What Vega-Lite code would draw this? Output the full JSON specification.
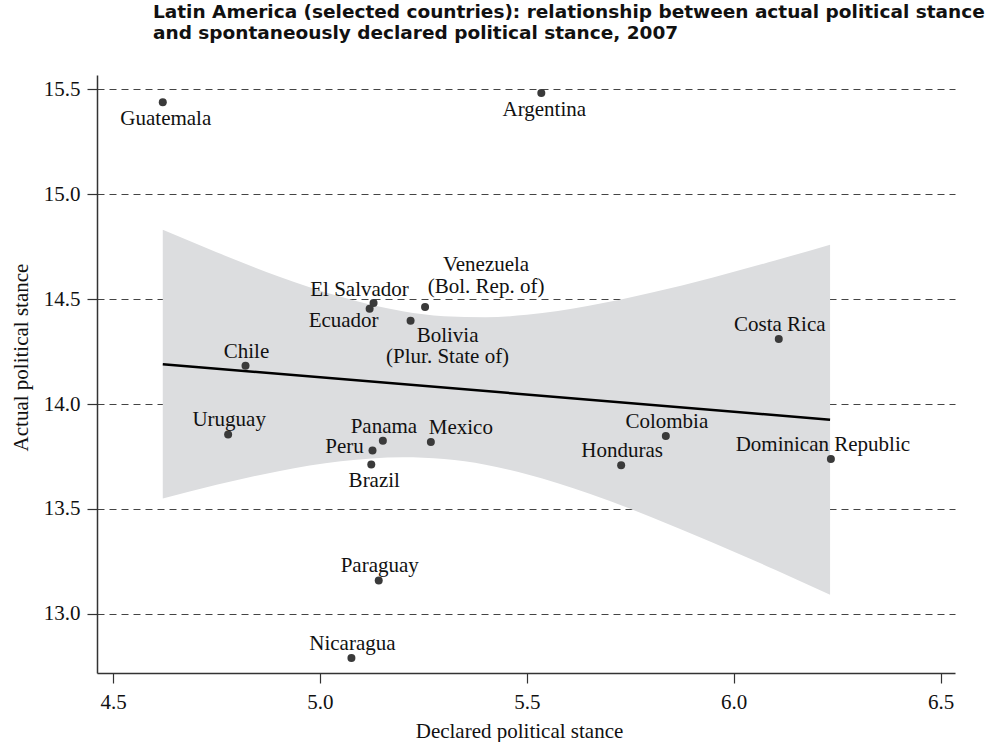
{
  "$schema": "https://vega.github.io/schema/vega-lite/v6.json",
  "width": 858,
  "height": 598,
  "autosize": "none",
  "padding": {"left": 97, "top": 75, "right": 40, "bottom": 69},
  "background": "white",
  "config": {"view": {"stroke": null}, "font": "Liberation Serif"},
  "title": {
    "text": ["Latin America (selected countries): relationship between actual political stance", "and spontaneously declared political stance, 2007"],
    "anchor": "start",
    "frame": "group",
    "font": "DejaVu Sans",
    "fontSize": 18.5,
    "fontWeight": "bold",
    "color": "#111111",
    "dx": 56,
    "offset": 33,
    "lineHeight": 21
  },
  "datasets": {
    "points": [
      {"country": "Guatemala", "x": 4.620, "y": 15.438},
      {"country": "Argentina", "x": 5.535, "y": 15.482},
      {"country": "El Salvador", "x": 5.1295, "y": 14.481},
      {"country": "Ecuador", "x": 5.120, "y": 14.454},
      {"country": "Venezuela\n(Bol. Rep. of)", "x": 5.254, "y": 14.462},
      {"country": "Bolivia\n(Plur. State of)", "x": 5.219, "y": 14.397},
      {"country": "Costa Rica", "x": 6.109, "y": 14.310},
      {"country": "Chile", "x": 4.820, "y": 14.182},
      {"country": "Uruguay", "x": 4.778, "y": 13.855},
      {"country": "Panama", "x": 5.152, "y": 13.825},
      {"country": "Mexico", "x": 5.268, "y": 13.819},
      {"country": "Peru", "x": 5.127, "y": 13.779},
      {"country": "Brazil", "x": 5.124, "y": 13.712},
      {"country": "Colombia", "x": 5.836, "y": 13.848},
      {"country": "Honduras", "x": 5.728, "y": 13.708},
      {"country": "Dominican Republic", "x": 6.235, "y": 13.738},
      {"country": "Paraguay", "x": 5.142, "y": 13.159},
      {"country": "Nicaragua", "x": 5.076, "y": 12.789}
    ],
    "fit": [
      {"x": 4.620, "y": 14.190},
      {"x": 6.233, "y": 13.925}
    ],
    "band": [
      {"x": 4.620, "y": 14.830, "lo": 13.550},
      {"x": 4.750, "y": 14.723, "lo": 13.615},
      {"x": 4.900, "y": 14.608, "lo": 13.680},
      {"x": 5.050, "y": 14.511, "lo": 13.727},
      {"x": 5.200, "y": 14.442, "lo": 13.746},
      {"x": 5.300, "y": 14.418, "lo": 13.738},
      {"x": 5.400, "y": 14.413, "lo": 13.711},
      {"x": 5.500, "y": 14.425, "lo": 13.665},
      {"x": 5.650, "y": 14.468, "lo": 13.574},
      {"x": 5.800, "y": 14.530, "lo": 13.462},
      {"x": 5.950, "y": 14.603, "lo": 13.339},
      {"x": 6.100, "y": 14.684, "lo": 13.210},
      {"x": 6.233, "y": 14.759, "lo": 13.091}
    ]
  },
  "encoding": {
    "x": {
      "field": "x",
      "type": "quantitative",
      "scale": {"domain": [4.461, 6.535], "nice": false, "zero": false},
      "axis": {
        "values": [4.5, 5, 5.5, 6, 6.5],
        "format": ".1f",
        "grid": false,
        "title": "Declared political stance",
        "domainColor": "#333333",
        "domainWidth": 1.5,
        "tickColor": "#333333",
        "tickWidth": 1.2,
        "tickSize": 10,
        "labelPadding": 8,
        "labelFont": "Liberation Serif",
        "labelFontSize": 21,
        "labelColor": "#111111",
        "titleFont": "Liberation Serif",
        "titleFontSize": 21,
        "titleFontWeight": "normal",
        "titleColor": "#111111",
        "titleX": 422,
        "titleY": 64,
        "titleBaseline": "alphabetic",
        "titleAlign": "center"
      }
    },
    "y": {
      "field": "y",
      "type": "quantitative",
      "scale": {"domain": [12.718, 15.568], "nice": false, "zero": false},
      "axis": {
        "values": [13, 13.5, 14, 14.5, 15, 15.5],
        "format": ".1f",
        "grid": true,
        "gridDash": [7, 5],
        "gridColor": "#444444",
        "gridWidth": 1,
        "title": "Actual political stance",
        "domainColor": "#333333",
        "domainWidth": 1.5,
        "tickColor": "#333333",
        "tickWidth": 1.2,
        "tickSize": 10,
        "labelPadding": 7,
        "labelFont": "Liberation Serif",
        "labelFontSize": 21,
        "labelColor": "#111111",
        "titleFont": "Liberation Serif",
        "titleFontSize": 21,
        "titleFontWeight": "normal",
        "titleColor": "#111111",
        "titleAngle": 270,
        "titleX": -70,
        "titleY": 282,
        "titleBaseline": "alphabetic",
        "titleAlign": "center"
      }
    }
  },
  "layer": [
    {
      "data": {"name": "band"},
      "mark": {"type": "area", "color": "#dcdddf", "interpolate": "monotone", "opacity": 1},
      "encoding": {"y2": {"field": "lo"}}
    },
    {
      "data": {"name": "fit"},
      "mark": {"type": "line", "color": "#000000", "strokeWidth": 2.5},
      "encoding": {}
    },
    {
      "data": {"name": "points"},
      "mark": {"type": "circle", "color": "#3a3a3a", "opacity": 1, "size": 64},
      "encoding": {}
    },
    {
      "data": {"name": "points"},
      "transform": [{"filter": {"field": "country", "oneOf": ["Chile", "Uruguay", "Panama", "Honduras", "Colombia", "Costa Rica", "Paraguay", "Nicaragua"]}}],
      "mark": {"type": "text", "font": "Liberation Serif", "fontSize": 21, "color": "#111111", "align": "center", "baseline": "alphabetic", "dx": 1, "dy": -8},
      "encoding": {"text": {"field": "country"}}
    },
    {
      "data": {"name": "points"},
      "transform": [{"filter": {"field": "country", "oneOf": ["Guatemala", "Argentina", "Brazil"]}}],
      "mark": {"type": "text", "font": "Liberation Serif", "fontSize": 21, "color": "#111111", "align": "center", "baseline": "alphabetic", "dx": 3, "dy": 22.5},
      "encoding": {"text": {"field": "country"}}
    },
    {
      "data": {"name": "points"},
      "transform": [{"filter": {"field": "country", "equal": "Mexico"}}],
      "mark": {"type": "text", "font": "Liberation Serif", "fontSize": 21, "color": "#111111", "align": "center", "baseline": "alphabetic", "dx": 30, "dy": -8},
      "encoding": {"text": {"field": "country"}}
    },
    {
      "data": {"name": "points"},
      "transform": [{"filter": {"field": "country", "equal": "Dominican Republic"}}],
      "mark": {"type": "text", "font": "Liberation Serif", "fontSize": 21, "color": "#111111", "align": "center", "baseline": "alphabetic", "dx": -8, "dy": -8},
      "encoding": {"text": {"field": "country"}}
    },
    {
      "data": {"name": "points"},
      "transform": [{"filter": {"field": "country", "equal": "El Salvador"}}],
      "mark": {"type": "text", "font": "Liberation Serif", "fontSize": 21, "color": "#111111", "align": "center", "baseline": "alphabetic", "dx": -14, "dy": -7},
      "encoding": {"text": {"field": "country"}}
    },
    {
      "data": {"name": "points"},
      "transform": [{"filter": {"field": "country", "equal": "Ecuador"}}],
      "mark": {"type": "text", "font": "Liberation Serif", "fontSize": 21, "color": "#111111", "align": "center", "baseline": "alphabetic", "dx": -26, "dy": 18},
      "encoding": {"text": {"field": "country"}}
    },
    {
      "data": {"name": "points"},
      "transform": [{"filter": {"field": "country", "equal": "Peru"}}],
      "mark": {"type": "text", "font": "Liberation Serif", "fontSize": 21, "color": "#111111", "align": "center", "baseline": "alphabetic", "dx": -28, "dy": 3},
      "encoding": {"text": {"field": "country"}}
    },
    {
      "data": {"name": "points"},
      "transform": [{"filter": {"field": "country", "equal": "Venezuela\n(Bol. Rep. of)"}}],
      "mark": {"type": "text", "font": "Liberation Serif", "fontSize": 21, "color": "#111111", "align": "center", "baseline": "alphabetic", "dx": 61, "dy": -36, "lineBreak": "\n", "lineHeight": 21.6},
      "encoding": {"text": {"field": "country"}}
    },
    {
      "data": {"name": "points"},
      "transform": [{"filter": {"field": "country", "equal": "Bolivia\n(Plur. State of)"}}],
      "mark": {"type": "text", "font": "Liberation Serif", "fontSize": 21, "color": "#111111", "align": "center", "baseline": "alphabetic", "dx": 37, "dy": 21, "lineBreak": "\n", "lineHeight": 21},
      "encoding": {"text": {"field": "country"}}
    }
  ]
}
